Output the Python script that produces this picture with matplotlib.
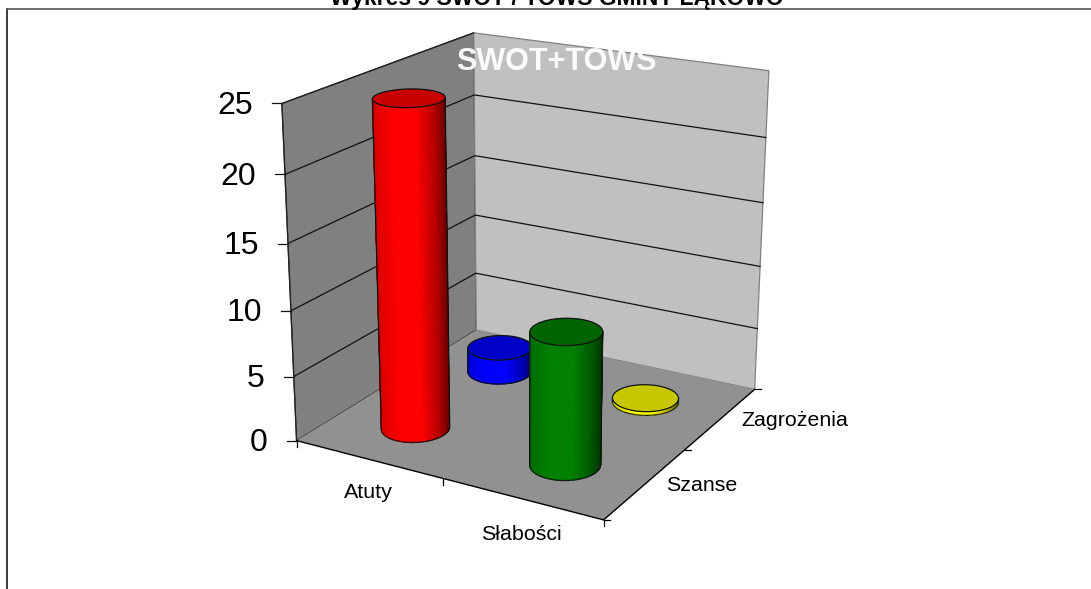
import numpy as np
import matplotlib
matplotlib.use("Agg")
import matplotlib.pyplot as plt
from matplotlib.collections import PolyCollection, LineCollection

plt.rcParams['font.family'] = ['Liberation Sans', 'DejaVu Sans']

# ---- data ----
categories = ["Atuty", "Słabości"]
depth_labels = ["Szanse", "Zagrożenia"]
z_ticks = [0, 5, 10, 15, 20, 25]
atuty_values = [24.8, 2]      # front row, back row
slabosci_values = [10, 0.3]   # front row, back row
front_colors = ["#FF0000", "#008000"]
back_colors = ["#0000FF", "#FFFF00"]
title_text = "Wykres 9 SWOT / TOWS GMINY ŁĄKOWO"
inner_title = "SWOT+TOWS"

W, H = 1091, 589
fig = plt.figure(figsize=(W / 100, H / 100), dpi=100, facecolor="white")
ax = fig.add_axes([0, 0, 1, 1])
ax.set_xlim(0, W)
ax.set_ylim(H, 0)
ax.axis("off")

# camera fitted to the visible box corners (model x, depth, value -> pixel)
nx, ny, nz = len(categories), len(depth_labels), z_ticks[-1]
anchors = [
    ((0, 0, 0), (297, 441)), ((nx, 0, 0), (603, 520)),
    ((nx, ny, 0), (755, 389)), ((0, ny, 0), (476, 330)),
    ((0, 0, nz), (282, 103)), ((0, ny, nz), (473.5, 33)),
    ((nx, ny, nz), (769, 71)),
]
A = []
for (X, Y, Z), (u, v) in anchors:
    A.append([X, Y, Z, 1, 0, 0, 0, 0, -u * X, -u * Y, -u * Z, -u])
    A.append([0, 0, 0, 0, X, Y, Z, 1, -v * X, -v * Y, -v * Z, -v])
P = np.linalg.svd(np.array(A, float))[2][-1].reshape(3, 4)


def proj(pts):
    pts = np.atleast_2d(np.array(pts, float))
    h = np.c_[pts, np.ones(len(pts))] @ P.T
    return h[:, :2] / h[:, 2:3]


# frame
ax.plot([7, 7], [8.5, H], color="#1a1a1a", lw=1.2, zorder=1)
ax.plot([7, W], [8.5, 8.5], color="#555555", lw=1.2, zorder=1)

# title clipped by the top of the image
ax.text(556.5, 5, title_text, ha="center", va="baseline", fontsize=16.5,
        fontweight="bold", color="black", zorder=20)

# walls and floor
left_wall = [(0, 0, 0), (0, ny, 0), (0, ny, nz), (0, 0, nz)]
back_wall = [(0, ny, 0), (nx, ny, 0), (nx, ny, nz), (0, ny, nz)]
floor = [(0, 0, 0), (nx, 0, 0), (nx, ny, 0), (0, ny, 0)]
ax.add_patch(plt.Polygon(proj(left_wall), fc="#808080", ec="#333333", lw=0.9, zorder=2))
ax.add_patch(plt.Polygon(proj(back_wall), fc="#C0C0C0", ec="#808080", lw=0.9, zorder=2))
ax.add_patch(plt.Polygon(proj(floor), fc="#919191", ec="none", zorder=3))

# gridlines and value axis
for z in z_ticks:
    a, b, c = proj([(0, 0, z), (0, ny, z), (nx, ny, z)])
    if 0 < z < nz:
        ax.plot([a[0], b[0], c[0]], [a[1], b[1], c[1]], color="#111111", lw=0.9, zorder=4)
    elif z == nz:
        ax.plot([a[0], b[0]], [a[1], b[1]], color="#222222", lw=0.9, zorder=4)
    ax.plot([a[0] - 10, a[0]], [a[1], a[1]], color="#111111", lw=0.9, zorder=4)
    ax.text(a[0] - 29, a[1] + 2.5, str(z), ha="right", va="center", fontsize=23, color="black")

a, b = proj([(0, 0, 0), (0, 0, nz)])
ax.plot([a[0], b[0]], [a[1], b[1]], color="#222222", lw=0.9, zorder=4)

# floor edges and category ticks
p = proj([(0, 0, 0), (nx, 0, 0), (nx, ny, 0)])
ax.plot(p[:, 0], p[:, 1], color="black", lw=1.0, zorder=4)
for i in range(nx + 1):
    a = proj([(i, 0, 0)])[0]
    ax.plot([a[0], a[0]], [a[1], a[1] + 6], color="black", lw=0.9, zorder=4)
for j in range(ny + 1):
    a = proj([(nx, j, 0)])[0]
    ax.plot([a[0], a[0] + 6], [a[1], a[1]], color="black", lw=0.9, zorder=4)

# labels
for i, name in enumerate(categories):
    a = proj([(i + 0.5, 0, 0)])[0]
    ax.text(a[0], a[1] + 33 + i * 3, name, ha="center", va="center", fontsize=15.4, color="black")
for j, name in enumerate(depth_labels):
    a = proj([(nx, j + 0.5, 0)])[0]
    ax.text(a[0] + 20, a[1] + 2, name, ha="left", va="center", fontsize=15.4, color="black")


def cylinder(cx, cy, value, color, zo):
    rx, ry = 0.198, 0.205
    t = np.linspace(0, 2 * np.pi, 181)
    xs, ys = cx + rx * np.cos(t), cy + ry * np.sin(t)
    bot = proj(np.c_[xs, ys, np.zeros_like(t)])
    top = proj(np.c_[xs, ys, np.full_like(t, value)])
    rgb = np.array(matplotlib.colors.to_rgb(color))
    lo, hi = bot[:, 0].min(), bot[:, 0].max()
    polys, cols, arc = [], [], []
    for i in range(180):
        q = np.array([bot[i], bot[i + 1], top[i + 1], top[i]])
        mid = 0.5 * (bot[i] + bot[i + 1])
        n = np.array([np.cos(t[i]), np.sin(t[i]), 0])
        # keep the near half: pushing outwards moves it down on screen
        c0 = proj([(cx + rx * n[0], cy + ry * n[1], 0)])[0]
        c1 = proj([(cx + rx * 1.02 * n[0], cy + ry * 1.02 * n[1], 0)])[0]
        if c1[1] - c0[1] <= 0:
            continue
        u = (mid[0] - lo) / (hi - lo)
        shade = np.interp(u, [0, 0.08, 0.3, 0.6, 0.85, 1], [0.78, 0.9, 1, 1, 0.72, 0.42])
        polys.append(q)
        cols.append(rgb * shade)
        arc.append([bot[i], bot[i + 1]])
    ax.add_collection(PolyCollection(polys, facecolors=cols, edgecolors=cols, lw=0.6, zorder=zo))
    ax.add_collection(LineCollection(arc, colors="#111111", lw=0.9, zorder=zo + 0.1))
    il, ir = np.argmin(bot[:, 0]), np.argmax(bot[:, 0])
    jl, jr = np.argmin(top[:, 0]), np.argmax(top[:, 0])
    ax.plot([bot[il, 0], top[jl, 0]], [bot[il, 1], top[jl, 1]], color="#111111", lw=0.9, zorder=zo + 0.1)
    ax.plot([bot[ir, 0], top[jr, 0]], [bot[ir, 1], top[jr, 1]], color="#111111", lw=0.9, zorder=zo + 0.1)
    ax.add_patch(plt.Polygon(top, fc=rgb * 0.78, ec="#111111", lw=0.9, zorder=zo + 0.2))


# back row first, then front row
cylinder(0.495, 1.47, atuty_values[1], back_colors[0], 5)
cylinder(1.5, 1.5, slabosci_values[1], back_colors[1], 6)
cylinder(0.5, 0.49, atuty_values[0], front_colors[0], 7)
cylinder(1.5, 0.49, slabosci_values[0], front_colors[1], 8)

ax.text(556, 62, inner_title, ha="center", va="center", fontsize=22, fontweight="bold",
        color="white", alpha=0.95, zorder=15)

fig.savefig("out.png", dpi=100, facecolor="white")
